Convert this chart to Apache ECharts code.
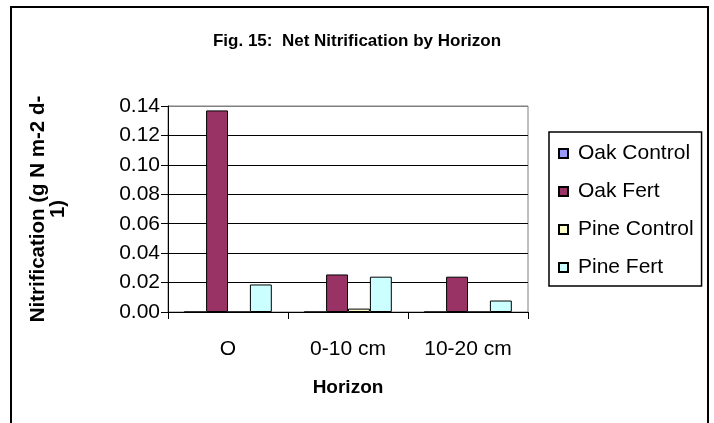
<!DOCTYPE html>
<html>
<head>
<meta charset="utf-8">
<script src="https://cdn.jsdelivr.net/npm/echarts@6/dist/echarts.min.js"></script>
<style>
html,body{margin:0;padding:0;background:#fff;}
#chart{width:714px;height:423px;}
</style>
</head>
<body>
<div id="chart"></div>
<script>
var categories = ['O', '0-10 cm', '10-20 cm'];
var oakControl = [0, 0, 0];
var oakFert = [0.137, 0.0255, 0.024];
var pineControl = [0, 0.0023, 0];
var pineFert = [0.0187, 0.024, 0.0078];
var seriesNames = ['Oak Control', 'Oak Fert', 'Pine Control', 'Pine Fert'];
var seriesColors = ['#9999FF', '#993366', '#FFFFCC', '#CCFFFF'];
var yTicks = [0, 0.02, 0.04, 0.06, 0.08, 0.10, 0.12, 0.14];

var FONT = '"Liberation Sans", Arial, sans-serif';
var chart = echarts.init(document.getElementById('chart'), null, {renderer: 'canvas'});
var dataSets = [oakControl, oakFert, pineControl, pineFert];
var series = dataSets.map(function (d, i) {
  return {
    name: seriesNames[i],
    type: 'bar',
    data: d,
    barGap: '0%',
    barCategoryGap: '27%',
    itemStyle: {color: seriesColors[i], borderColor: '#000', borderWidth: 1},
    emphasis: {disabled: true}
  };
});
var splitColors = yTicks.map(function (v, i) { return i === yTicks.length - 1 ? '#808080' : '#000'; });
chart.setOption({
  animation: false,
  backgroundColor: '#fff',
  textStyle: {fontFamily: FONT, color: '#000'},
  title: {
    text: 'Fig. 15:  Net Nitrification by Horizon',
    left: 'center',
    top: 28,
    textStyle: {fontFamily: FONT, fontSize: 17, fontWeight: 'bold', color: '#000'}
  },
  graphic: [{
    type: 'rect',
    shape: {x: 11, y: 7, width: 697, height: 430},
    style: {fill: null, stroke: '#000', lineWidth: 2},
    silent: true,
    z: -1
  }],
  legend: {
    orient: 'vertical',
    left: 549,
    top: 132,
    padding: [11, 8, 8, 9],
    itemGap: 17,
    itemWidth: 9,
    itemHeight: 9,
    icon: 'rect',
    borderColor: '#000',
    borderWidth: 1.5,
    textStyle: {fontFamily: FONT, fontSize: 21, color: '#000', padding: [0, 0, 0, 5]},
    data: seriesNames
  },
  grid: {
    left: 168, top: 106, width: 360, height: 206,
    show: true, borderColor: '#808080', borderWidth: 1, backgroundColor: '#fff'
  },
  xAxis: {
    type: 'category',
    data: categories,
    boundaryGap: true,
    name: 'Horizon',
    nameLocation: 'middle',
    nameGap: 66,
    nameTextStyle: {fontFamily: FONT, fontSize: 19, fontWeight: 'bold', color: '#000'},
    axisLine: {lineStyle: {color: '#000', width: 1}},
    axisTick: {show: true, length: 7, lineStyle: {color: '#000'}},
    axisLabel: {fontFamily: FONT, fontSize: 21, color: '#000', margin: 27}
  },
  yAxis: {
    type: 'value',
    min: 0,
    max: 0.14,
    interval: 0.02,
    name: 'Nitrification (g N m-2 d-\n1)',
    nameLocation: 'middle',
    nameGap: 100,
    nameTextStyle: {fontFamily: FONT, fontSize: 20.5, fontWeight: 'bold', color: '#000', lineHeight: 20},
    axisLine: {show: true, lineStyle: {color: '#000', width: 1}},
    axisTick: {show: true, length: 7, lineStyle: {color: '#000'}},
    axisLabel: {fontFamily: FONT, fontSize: 21, color: '#000', margin: 8,
      formatter: function (v) { return v.toFixed(2); }},
    splitLine: {show: true, lineStyle: {color: splitColors, width: 1}}
  },
  series: series
});
</script>
</body>
</html>
